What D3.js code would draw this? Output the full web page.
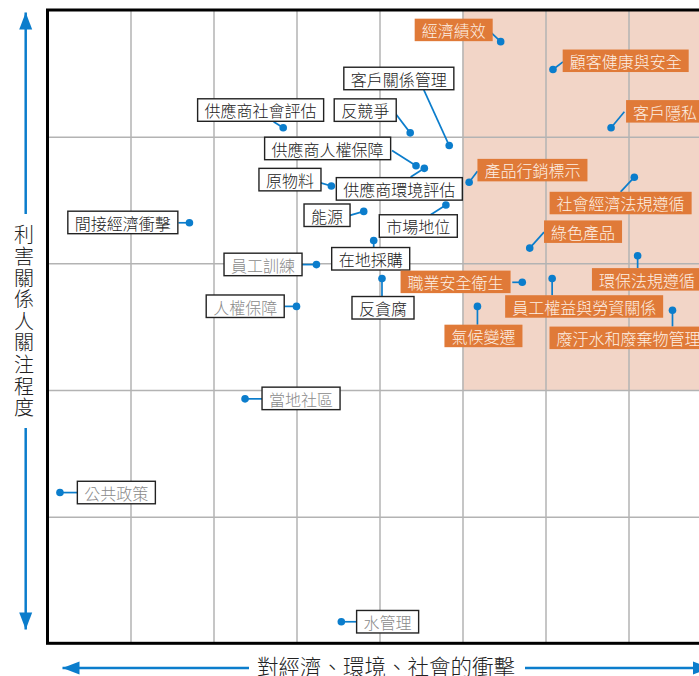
<!DOCTYPE html>
<html><head><meta charset="utf-8">
<script src="https://cdn.jsdelivr.net/npm/d3@7"></script>
<style>html,body{margin:0;padding:0;background:#fff;}svg{display:block;}</style>
</head><body>
<svg id="chart" width="699" height="676"></svg>
<script>
// ---- data ----
const topics = ["經濟績效","顧客健康與安全","客戶隱私","客戶關係管理","反競爭","供應商社會評估","供應商人權保障","供應商環境評估","原物料","能源","市場地位","在地採購","員工訓練","反貪腐","人權保障","間接經濟衝擊","當地社區","公共政策","水管理","產品行銷標示","社會經濟法規遵循","綠色產品","環保法規遵循","職業安全衛生","員工權益與勞資關係","氣候變遷","廢汙水和廢棄物管理"];
const impact = [5.46,6.09,6.79,4.84,4.37,2.84,4.44,4.54,3.42,3.81,4.80,3.93,3.24,4.03,3.00,1.71,2.38,0.15,3.54,5.08,7.07,5.81,7.11,5.72,6.08,5.18,7.53];
const concern = [4.75,4.53,4.07,3.93,4.03,4.07,3.77,3.75,3.61,3.41,3.46,3.18,2.99,2.88,2.66,3.32,1.93,1.19,0.17,3.64,3.68,3.12,3.06,2.85,2.88,2.66,2.63];
const tier = ["high","high","high","mid","mid","mid","mid","mid","mid","mid","mid","mid","low","mid","low","mid","low","low","low","high","high","high","high","high","high","high","high"];
const xTicks = [1,2,3,4,5,6,7];
const yTicks = [1,2,3,4];
const xTitle = "對經濟、環境、社會的衝擊";
const yTitle = "利害關係人關注程度";

// ---- layout (label box offset from dot, leader end offset from dot) ----
const boxOff = [[-86,-23],[9.7,-20],[15,-27.7],[-105.4,-78.3],[-76,-34],[-85.6,-29],[-151.4,-28.6],[-88,9.3],[-72.4,-17.7],[-59.7,-7.4],[-66.6,9.7],[-42,7],[-92.4,-11.4],[-30,18],[-90.3,-11.4],[-121.6,-11.6],[17,-11.7],[17.4,-11.3],[15.3,-11.3],[8.3,-23.4],[-84.7,14.6],[14.3,-27.7],[-45.7,12.4],[-121.7,-11.7],[-47,16.7],[-33,18.3],[-123,16.4]];
const leadOff = [[-9.3,-8.7],[10,-7.7],[13.3,-16],[-25.4,-55.7],[-15.7,-20.6],[-9.6,-6],[-24,-15.3],[-13.7,8.7],[-12.4,-3.7],[-17.3,5],[-15.3,9.7],[0,7],[-14.7,0],[0,18],[-12.7,0],[-11,0],[17,0],[17.4,0],[15.3,0],[8.3,-11],[-13.7,14.7],[14.3,-16],[0,12.3],[-10,0],[0,16.7],[0,18.3],[0,16.3]];

const svg = d3.select("#chart");
const FONT = "'Noto Sans CJK TC','Noto Sans CJK SC',sans-serif";
const x = d3.scaleLinear().domain([0,8]).range([47.5,711.5]);
const y = d3.scaleLinear().domain([0,5]).range([643.3,10]);
const blue = "#0b7dcc", orange = "#e07a38";

// shaded material region
svg.append("rect").attr("x", x(5)).attr("y", y(5)).attr("width", x(8)-x(5)).attr("height", y(2)-y(5)).attr("fill", "#f2d5c7");

// grid via axes
const gx = svg.append("g").attr("transform", `translate(0,${y(0)})`)
  .call(d3.axisBottom(x).tickValues(xTicks).tickSize(-(y(0)-y(5))).tickFormat(""));
const gy = svg.append("g").attr("transform", `translate(${x(0)},0)`)
  .call(d3.axisLeft(y).tickValues(yTicks).tickSize(-(x(8)-x(0))).tickFormat(""));
[gx,gy].forEach(g=>{ g.select(".domain").remove(); g.selectAll(".tick line").attr("stroke","#b3b3b3").attr("stroke-width",1.5); });

// frame
svg.append("rect").attr("x", x(0)).attr("y", y(5)).attr("width", x(8)-x(0)).attr("height", y(0)-y(5))
  .attr("fill","none").attr("stroke","#000").attr("stroke-width",3);

const pts = topics.map((t,i)=>({name:t, px:x(impact[i]), py:y(concern[i]), tier:tier[i], b:boxOff[i], l:leadOff[i]}));

// leaders
svg.append("g").selectAll("line").data(pts).join("line")
  .attr("x1", d=>d.px).attr("y1", d=>d.py).attr("x2", d=>d.px+d.l[0]).attr("y2", d=>d.py+d.l[1])
  .attr("stroke", blue).attr("stroke-width", 1.7);
// dots
svg.append("g").selectAll("circle").data(pts).join("circle")
  .attr("cx", d=>d.px).attr("cy", d=>d.py).attr("r", 3.8).attr("fill", blue);

// labels
const lg = svg.append("g").selectAll("g").data(pts).join("g")
  .attr("transform", d=>`translate(${d.px+d.b[0]},${d.py+d.b[1]})`);
const rects = lg.append("rect").attr("height", 22.5)
  .attr("fill", d=>d.tier==="high"?orange:"#fff")
  .attr("stroke", d=>d.tier==="high"?"none":"#222").attr("stroke-width", 1.4);
const texts = lg.append("text").attr("x", 7).attr("y", 11.6).attr("dominant-baseline","central")
  .attr("font-family", FONT).attr("font-size", 16).attr("font-weight", 300)
  .attr("fill", d=>d.tier==="high"?"#fdf0e6":(d.tier==="low"?"#8a8a8a":"#222"))
  .text(d=>d.name);
texts.each(function(d){ d.tw = this.getComputedTextLength(); });
rects.attr("width", d=>d.tw+14);

// axis arrows
function arrow(x1,y1,x2,y2){
  svg.append("line").attr("x1",x1).attr("y1",y1).attr("x2",x2).attr("y2",y2).attr("stroke",blue).attr("stroke-width",2.5);
  const ang = Math.atan2(y2-y1,x2-x1), L=17, Wd=6.5;
  const bx = x2-L*Math.cos(ang), by = y2-L*Math.sin(ang);
  const nx = -Math.sin(ang)*Wd, ny = Math.cos(ang)*Wd;
  svg.append("path").attr("d",`M${x2},${y2}L${bx+nx},${by+ny}L${bx-nx},${by-ny}Z`).attr("fill",blue);
}
arrow(25.7,214,25.7,12.5);
arrow(25.7,428,25.7,629.5);
arrow(249,668,62.5,668);
arrow(525,668,710,668);

// axis titles
svg.append("text").attr("x",386).attr("y",665).attr("text-anchor","middle").attr("dominant-baseline","central")
  .attr("font-family",FONT).attr("font-size",21.5).attr("font-weight",300).attr("fill","#222").text(xTitle);
svg.append("text").attr("x",24).attr("y",322).attr("text-anchor","middle")
  .style("writing-mode","vertical-rl").style("text-orientation","upright").style("letter-spacing","1.6px")
  .attr("font-family",FONT).attr("font-size",20).attr("font-weight",300).attr("fill","#222").text(yTitle);
</script>
</body></html>
